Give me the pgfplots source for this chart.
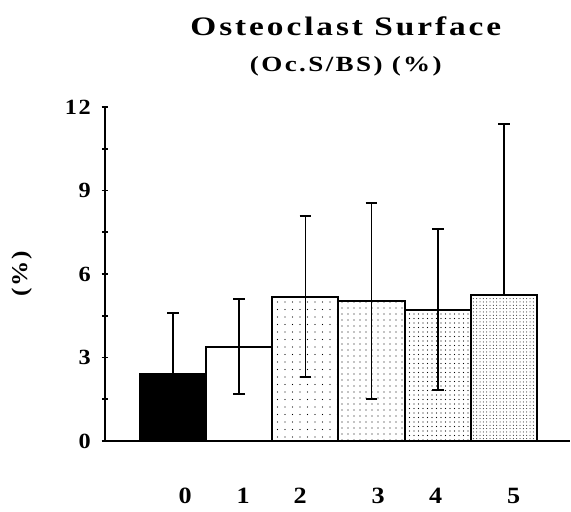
\documentclass[border=0pt]{standalone}
\usepackage{fontspec}
\setmainfont{Liberation Serif}
\newfontfamily\titlefont[LetterSpace=11,FakeStretch=1.25]{Liberation Serif}
\newfontfamily\tickfont[LetterSpace=8,FakeStretch=1.12]{Liberation Serif}
\usepackage{pgfplots}
\pgfplotsset{compat=1.18}
\usetikzlibrary{patterns.meta}
\pgfplotsset{
  mybar/.style={ybar, bar width=1, bar shift=0, draw=black, line width=1.2pt,
    error bars/y explicit,
    error bars/error bar style={line width=1.1pt, black},
    error bars/error mark options={rotate=90, mark size=3.5pt, line width=1.2pt, black}},
}
\begin{document}
\begin{tikzpicture}
\begin{axis}[
  scale only axis, width=279pt, height=200.4pt,
  xmin=-1.03, xmax=6.0, ymin=0, ymax=12,
  axis x line=bottom, axis y line=left,
  axis line style={-, line width=1.2pt},
  ytick={0,3,6,9,12}, minor ytick={1.5,4.5,7.5,10.5},
  tick align=center, major tick length=4pt, minor tick length=3.5pt,
  tick style={line width=1pt, black},
  xtick={0.18,1.06,1.92,3.1,3.97,5.15}, xticklabels={0,1,2,3,4,5},
  x tick style={draw=none},
  xticklabel style={anchor=center, yshift=-31pt, font=\tickfont\bfseries\fontsize{14}{15}\selectfont},
  yticklabel style={font=\tickfont\bfseries\fontsize{13}{14}\selectfont, xshift=-3pt},
  /pgf/number format/assume math mode=true,
  ylabel={(\%)},
  ylabel style={at={(rel axis cs:0,0.5)}, anchor=center, yshift=50pt, font=\tickfont\bfseries\fontsize{13.5}{14}\selectfont},
  clip=false,
]
\addplot[mybar, fill=black, error bars/y dir=plus] coordinates {(0,2.41) +- (0,2.2)};
\addplot[mybar, fill=white, error bars/y dir=both] coordinates {(1,3.39) +- (0,1.7)};
\addplot[mybar, pattern={Dots[distance=4.5pt,radius=0.35pt]}, pattern color=black, error bars/y dir=both] coordinates {(2,5.19) +- (0,2.9)};
\addplot[mybar, pattern={Dots[distance=3.6pt,radius=0.35pt]}, pattern color=black, error bars/y dir=both] coordinates {(3,5.04) +- (0,3.52)};
\addplot[mybar, pattern={Dots[distance=2.7pt,radius=0.33pt]}, pattern color=black, error bars/y dir=both] coordinates {(4,4.72) +- (0,2.89)};
\addplot[mybar, pattern={Dots[distance=2.0pt,radius=0.3pt]}, pattern color=black, error bars/y dir=plus] coordinates {(5,5.23) +- (0,6.16)};
\end{axis}
\node[font=\titlefont\bfseries\fontsize{16}{18}\selectfont] at ([xshift=5pt,yshift=48.6pt]current axis.north) {Osteoclast Surface};
\node[font=\titlefont\bfseries\fontsize{13}{15}\selectfont] at ([xshift=5pt,yshift=24.5pt]current axis.north) {(Oc.S/BS) (\%)};
\pgfresetboundingbox
\path[use as bounding box] ([shift={(-63pt,-42.6pt)}]current axis.south west) rectangle ([shift={(0.6pt,64.2pt)}]current axis.north east);
\end{tikzpicture}
\end{document}
